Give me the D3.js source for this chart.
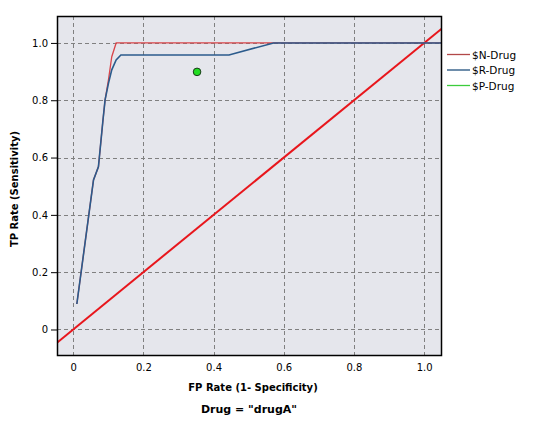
<!DOCTYPE html>
<html>
<head>
<meta charset="utf-8">
<script src="https://cdn.jsdelivr.net/npm/d3@7"></script>
<style>
  body { margin: 0; background: #fff; }
  svg text { font-family: "DejaVu Sans", sans-serif; }
</style>
</head>
<body>
<div id="chart"></div>
<script>
// ROC curves
const nDrugFpr = [0.0105, 0.058, 0.072, 0.085, 0.091, 0.1006, 0.110, 0.1225, 1.05];
const nDrugTpr = [0.089, 0.522, 0.568, 0.731, 0.801, 0.871, 0.952, 1.0, 1.0];
const rDrugFpr = [0.0105, 0.058, 0.072, 0.085, 0.091, 0.1006, 0.110, 0.1225, 0.136, 0.444, 0.571, 1.05];
const rDrugTpr = [0.089, 0.522, 0.568, 0.731, 0.801, 0.859, 0.906, 0.941, 0.958, 0.958, 1.0, 1.0];
const pDrugPoint = [0.353, 0.899];
const tickValues = [0, 0.2, 0.4, 0.6, 0.8, 1.0];
const seriesNames = ['$N-Drug', '$R-Drug', '$P-Drug'];
const seriesColors = ['#b24848', '#1f4f7d', '#3ccc3c'];

const width = 533, height = 430;
const margin = { top: 16, right: 92, bottom: 75, left: 57 };

const svg = d3.select('#chart')
    .append('svg')
    .attr('width', width)
    .attr('height', height);

const xScale = d3.scaleLinear()
    .domain([-0.046, 1.048])
    .range([margin.left, width - margin.right]);

const yScale = d3.scaleLinear()
    .domain([-0.089, 1.094])
    .range([height - margin.bottom, margin.top]);

const plotW = width - margin.right - margin.left;
const plotH = height - margin.bottom - margin.top;

svg.append('defs').append('clipPath').attr('id', 'clip')
    .append('rect')
    .attr('x', margin.left).attr('y', margin.top)
    .attr('width', plotW).attr('height', plotH);

// plot background
svg.append('rect')
    .attr('x', margin.left).attr('y', margin.top)
    .attr('width', plotW).attr('height', plotH)
    .attr('fill', '#e5e6ec');

// grid
const grid = svg.append('g')
    .attr('stroke', '#808080')
    .attr('stroke-dasharray', '4,3')
    .attr('stroke-width', 1);

grid.selectAll('.vx')
    .data(tickValues)
    .enter().append('line')
    .attr('x1', d => Math.round(xScale(d)) + 0.5)
    .attr('x2', d => Math.round(xScale(d)) + 0.5)
    .attr('y1', margin.top)
    .attr('y2', height - margin.bottom);

grid.selectAll('.hy')
    .data(tickValues)
    .enter().append('line')
    .attr('y1', d => Math.round(yScale(d)) + 0.5)
    .attr('y2', d => Math.round(yScale(d)) + 0.5)
    .attr('x1', margin.left)
    .attr('x2', width - margin.right);

const line = d3.line()
    .x(d => xScale(d[0]))
    .y(d => yScale(d[1]));

const plot = svg.append('g').attr('clip-path', 'url(#clip)');

// diagonal reference line
plot.append('path')
    .datum([[-0.1, -0.1], [1.1, 1.1]])
    .attr('fill', 'none')
    .attr('stroke', '#e8161c')
    .attr('stroke-width', 2)
    .attr('d', line);

plot.append('path')
    .datum(nDrugFpr.map((x, i) => [x, nDrugTpr[i]]))
    .attr('fill', 'none')
    .attr('stroke', '#d9454a')
    .attr('stroke-width', 1.3)
    .attr('d', line);

plot.append('path')
    .datum(rDrugFpr.map((x, i) => [x, rDrugTpr[i]]))
    .attr('fill', 'none')
    .attr('stroke', '#2b5b8c')
    .attr('stroke-width', 1.6)
    .attr('d', line);

plot.append('circle')
    .attr('cx', xScale(pDrugPoint[0]))
    .attr('cy', yScale(pDrugPoint[1]))
    .attr('r', 3.8)
    .attr('fill', '#22dd22')
    .attr('stroke', '#1a3a1a')
    .attr('stroke-width', 1);

// frame
svg.append('rect')
    .attr('x', margin.left + 0.5).attr('y', margin.top + 0.5)
    .attr('width', plotW).attr('height', plotH)
    .attr('fill', 'none')
    .attr('stroke', '#000')
    .attr('stroke-width', 1.5);

// y axis
const yAxis = svg.append('g')
    .attr('transform', `translate(${margin.left},0)`)
    .call(d3.axisLeft(yScale).tickValues(tickValues)
        .tickFormat(d => d === 0 ? '0' : d3.format('.1f')(d))
        .tickSize(6).tickPadding(3));
yAxis.select('.domain').remove();
yAxis.selectAll('text').attr('font-size', 10).attr('fill', '#000')
    .style('font-family', '"DejaVu Sans", sans-serif');

// x axis
const xAxis = svg.append('g')
    .attr('transform', `translate(0,${height - margin.bottom})`)
    .call(d3.axisBottom(xScale).tickValues(tickValues)
        .tickFormat(d => d === 0 ? '0' : d3.format('.1f')(d))
        .tickSize(0).tickPadding(9));
xAxis.select('.domain').remove();
xAxis.selectAll('text').attr('font-size', 10).attr('fill', '#000')
    .style('font-family', '"DejaVu Sans", sans-serif');

// axis titles
svg.append('text')
    .attr('x', 253)
    .attr('y', 391)
    .attr('text-anchor', 'middle')
    .attr('font-size', 10)
    .attr('font-weight', 'bold')
    .text('FP Rate (1- Specificity)');

svg.append('text')
    .attr('transform', 'rotate(-90)')
    .attr('x', -189)
    .attr('y', 18)
    .attr('text-anchor', 'middle')
    .attr('font-size', 10)
    .attr('font-weight', 'bold')
    .text('TP Rate (Sensitivity)');

svg.append('text')
    .attr('x', 249)
    .attr('y', 413)
    .attr('text-anchor', 'middle')
    .attr('font-size', 11)
    .attr('font-weight', 'bold')
    .text('Drug = "drugA"');

// legend
const legend = svg.append('g')
    .selectAll('g')
    .data(seriesNames)
    .enter().append('g')
    .attr('transform', (d, i) => `translate(447,${54.5 + i * 15.5})`);

legend.append('line')
    .attr('x1', 0).attr('x2', 23)
    .attr('stroke', (d, i) => seriesColors[i])
    .attr('stroke-width', 1.3);

legend.append('text')
    .attr('x', 25)
    .attr('y', 4)
    .attr('font-size', 10.5)
    .text(d => d);
</script>
</body>
</html>
